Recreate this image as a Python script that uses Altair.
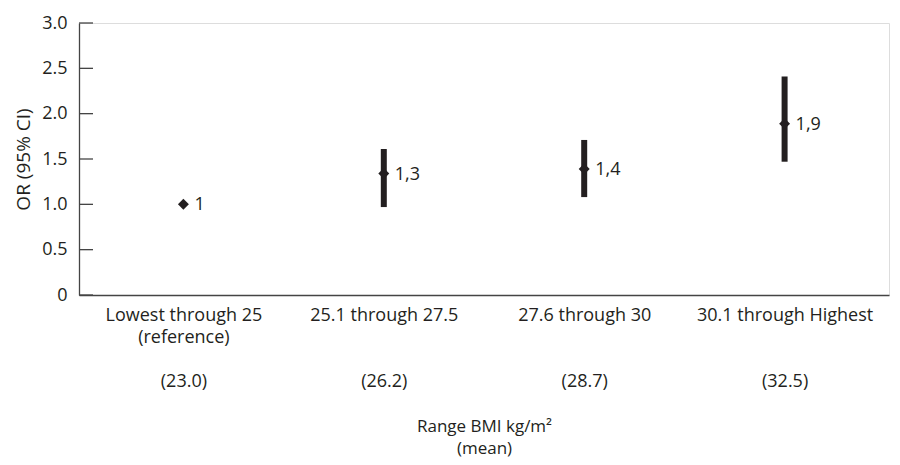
import altair as alt
import pandas as pd

# ---- data ----
range_labels = ["Lowest through 25", "25.1 through 27.5", "27.6 through 30", "30.1 through Highest"]
range_notes = ["(reference)", "\u200b", "\u200b", "\u200b"]
bmi_means = ["(23.0)", "(26.2)", "(28.7)", "(32.5)"]
odds_ratio = [1.0, 1.34, 1.39, 1.89]
ci_low = [1.0, 0.97, 1.08, 1.47]
ci_high = [1.0, 1.61, 1.71, 2.41]
or_text = ["1", "1,3", "1,4", "1,9"]
y_ticks = [0, 0.5, 1.0, 1.5, 2.0, 2.5, 3.0]

cats = ["|".join([r, n, "\u200b", m]) for r, n, m in zip(range_labels, range_notes, bmi_means)]
df = pd.DataFrame({
    "cat": cats,
    "or": odds_ratio,
    "lo": ci_low,
    "hi": ci_high,
    "txt": or_text,
})
ticks_df = pd.DataFrame({"t": y_ticks})

FONT = "Open Sans"
INK = "#231f20"
AX = "#444444"

xscale = alt.Scale(type="point", padding=0.521, domain=cats)
yscale = alt.Scale(domain=[0, 3.0], nice=False)

x_enc = alt.X(
    "cat:N",
    scale=xscale,
    sort=cats,
    axis=alt.Axis(
        title=["Range BMI kg/m²", "(mean)"],
        labelExpr="split(datum.label, '|')",
        labelAngle=0,
        labelFont=FONT,
        labelFontSize=18,
        labelColor=INK,
        labelLineHeight=22,
        labelPadding=11,
        labelBaseline="top",
        ticks=False,
        tickSize=0,
        domainColor=AX,
        domainWidth=1.3,
        titleFont=FONT,
        titleFontSize=17,
        titleFontWeight="normal",
        titleColor=INK,
        titleLineHeight=22,
        titlePadding=28,
        grid=False,
    ),
)
y_enc = alt.Y(
    "lo:Q",
    scale=yscale,
    axis=alt.Axis(
        title="OR (95% CI)",
        values=y_ticks,
        labelExpr="datum.value == 0 ? '0' : format(datum.value, '.1f')",
        labelFont=FONT,
        labelFontSize=18,
        labelColor=INK,
        labelPadding=12,
        ticks=False,
        tickSize=0,
        domainColor=AX,
        domainWidth=1.3,
        titleFont=FONT,
        titleFontSize=19,
        titleFontWeight="normal",
        titleColor=INK,
        titlePadding=8,
        grid=False,
    ),
)

base = alt.Chart(df)

ci = base.mark_rule(color=INK, strokeWidth=6).encode(
    x=x_enc,
    y=y_enc,
    y2="hi:Q",
)

pts = base.mark_point(shape="diamond", filled=True, color=INK, size=120, opacity=1).encode(
    x=alt.X("cat:N", scale=xscale, sort=cats),
    y=alt.Y("or:Q", scale=yscale),
)

labels = base.mark_text(align="left", baseline="middle", dx=11, dy=1, font=FONT, fontSize=18, color=INK).encode(
    x=alt.X("cat:N", scale=xscale, sort=cats),
    y=alt.Y("or:Q", scale=yscale),
    text="txt:N",
)

yticks = alt.Chart(ticks_df).mark_rule(color=AX, strokeWidth=1.3).encode(
    y=alt.Y("t:Q", scale=yscale),
    x=alt.value(0),
    x2=alt.value(14),
)

chart = alt.layer(ci, yticks, pts, labels).properties(
    width=810,
    height=272,
    autosize=alt.AutoSizeParams(type="none"),
    padding={"left": 71, "top": 15, "right": 3, "bottom": 162},
).configure_view(stroke=None).configure(background="white")

chart.save("out.html", embed_options={"renderer": "svg", "actions": False})
